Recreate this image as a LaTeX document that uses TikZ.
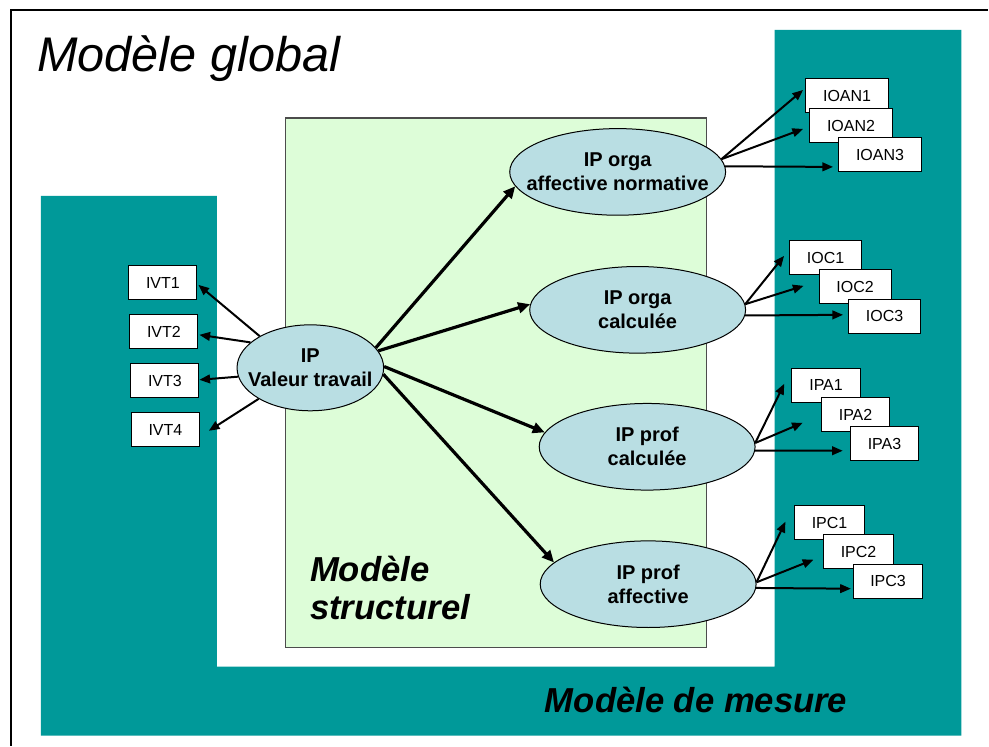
\documentclass[tikz,border=0pt]{standalone}
\usepackage{fontspec}
\setmainfont{Liberation Sans}
\usetikzlibrary{arrows.meta,shapes.geometric,calc}
\definecolor{mesteal}{RGB}{0,153,153}
\definecolor{strgreen}{RGB}{221,253,216}
\definecolor{latblue}{RGB}{185,222,227}
\tikzset{
  lat/.style={ellipse, draw, fill=latblue, line width=.75pt, inner xsep=-13pt, inner ysep=0pt,
    minimum width=162pt, minimum height=65pt, align=center, font=\fontsize{15}{18}\selectfont\bfseries},
  ind/.style={draw, fill=white, line width=.75pt, inner sep=0pt, minimum height=25.5pt,
    font=\fontsize{12}{14}\selectfont},
  struc/.style={-{Triangle[length=9pt,width=8pt]}, line width=2.4pt},
  meas/.style={-{Triangle[length=8pt,width=6.5pt]}, line width=1.5pt},
  ttl/.style={anchor=base west, inner sep=0pt, font=\fontsize{26}{28}\selectfont\bfseries\itshape},
}
\begin{document}
\begin{tikzpicture}[x=0.75pt, y=-0.75pt]
  \fill[white] (0,0) rectangle (989,746);
  % cadre
  \draw[line width=.8pt] (11,746) -- (11,10) -- (989,10);
  % modele de mesure
  \fill[mesteal] (41,196) -- (217,196) -- (217,667) -- (775,667) -- (775,30) -- (962,30) -- (962,736) -- (41,736) -- cycle;
  % modele structurel
  \draw[fill=strgreen, draw=black!70, line width=.9pt] (286,118) rectangle (707,648);
  \node[anchor=base west, inner sep=0pt, font=\fontsize{36.5}{40}\selectfont\itshape] (titre) at (37,72) {Modèle global};
  \node[ttl] (struc1) at (310,582) {Modèle};
  \node[ttl] (struc2) at (310,620) {structurel};
  \node[ttl] (mesure) at (545,713) {Modèle de mesure};
  % variables latentes
  \node[lat, minimum width=110pt, minimum height=64.5pt] (ivt) at (310.5,368) {IP\\Valeur travail};
  \node[lat] (an) at (618,172) {IP orga\\affective normative};
  \node[lat] (oc) at (638,310) {IP orga\\calculée};
  \node[lat] (pa) at (647.5,447) {IP prof\\calculée};
  \node[lat] (pc) at (648.5,584.5) {IP prof\\affective};
  % indicateurs
  \foreach \n/\x/\y in {IVT1/163/283, IVT2/164/332, IVT3/165/381, IVT4/165.5/430}
    \node[ind, minimum width=51pt] (\n) at (\x,\y) {\n};
  \foreach \n/\x/\y in {IOAN1/847.5/96, IOAN2/851.5/126, IOAN3/880.5/155}
    \node[ind, minimum width=62.25pt] (\n) at (\x,\y) {\n};
  \foreach \n/\x/\y in {IOC1/826/258, IOC2/855.5/287, IOC3/885/316.5}
    \node[ind, minimum width=54pt] (\n) at (\x,\y) {\n};
  \foreach \n/\x/\y in {IPA1/826.5/385.5, IPA2/856/415, IPA3/885/444}
    \node[ind, minimum width=51.5pt] (\n) at (\x,\y) {\n};
  \foreach \n/\x/\y in {IPC1/830/523, IPC2/859/552, IPC3/888.5/581.5}
    \node[ind, minimum width=52pt] (\n) at (\x,\y) {\n};
  % fleches
  \foreach \a/\b in {ivt.17/an.188, ivt.14/oc.177, ivt.1/pa.172, ivt.-5/pc.167}
    \draw[struc] (\a) -- (\b);
  \foreach \s/\t/\dx/\dy in {ivt.148/IVT1/1/2, ivt.157/IVT2/1/3, ivt.187/IVT3/0/-1, ivt.211/IVT4/9/1}
    \draw[meas] (\s) -- ($(\t.east)+(\dx,\dy)$);
  \foreach \s/\t/\dx/\dy in {an.7/IOAN1/-2/-6, an.7/IOAN2/-6/3, an.3/IOAN3/-5/12,
      oc.3/IOC1/-5/-2, oc.3/IOC2/-15/-1, oc.-3/IOC3/-5/-1.5,
      pa.2/IPA1/-7/-1.5, pa.2/IPA2/-18/8, pa.-2/IPA3/-7/7,
      pc.1/IPC1/-9/-1, pc.1/IPC2/-10/8, pc.-2/IPC3/-2/7.5}
    \draw[meas] (\s) -- ($(\t.west)+(\dx,\dy)$);
\end{tikzpicture}
\end{document}
